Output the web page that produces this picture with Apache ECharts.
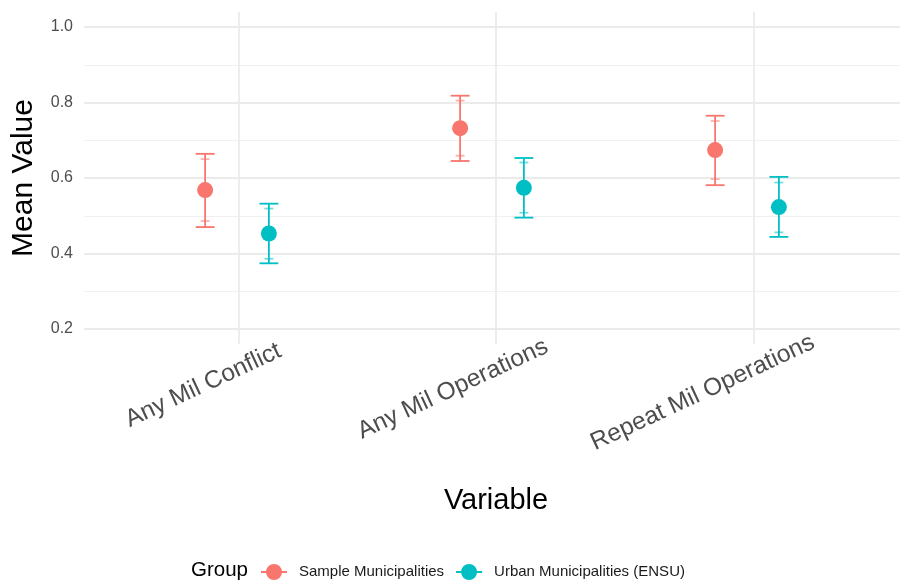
<!DOCTYPE html>
<html>
<head>
<meta charset="utf-8">
<script src="https://cdn.jsdelivr.net/npm/echarts@6/dist/echarts.min.js"></script>
<style>html,body{margin:0;padding:0;background:#fff;}#c{width:900px;height:588px;}</style>
</head>
<body>
<div id="c"></div>
<script>
const categories = ['Any Mil Conflict', 'Any Mil Operations', 'Repeat Mil Operations'];
const groups = ['Sample Municipalities', 'Urban Municipalities (ENSU)'];
const yTicks = [0.2, 0.4, 0.6, 0.8, 1.0];

const sampleMean      = [0.568, 0.732, 0.674];
const sampleLow       = [0.470, 0.645, 0.581];
const sampleHigh      = [0.664, 0.818, 0.765];
const sampleInnerLow  = [0.486, 0.659, 0.597];
const sampleInnerHigh = [0.650, 0.805, 0.751];

const urbanMean      = [0.453, 0.574, 0.523];
const urbanLow       = [0.374, 0.495, 0.444];
const urbanHigh      = [0.532, 0.653, 0.603];
const urbanInnerLow  = [0.386, 0.508, 0.456];
const urbanInnerHigh = [0.519, 0.641, 0.588];

const colors = ['#F8766D', '#00BFC4'];
const dodge = 0.125;
const FONT = '"Liberation Sans", Arial, Helvetica, sans-serif';
const XFS = 24.5;

// measure x label widths to place the rotation anchor like the reference
const ctx = document.createElement('canvas').getContext('2d');
ctx.font = XFS + 'px "Liberation Sans"';
const anchorFrac = 0.73;
const rich = { t: { fontSize: XFS, color: '#4d4d4d', fontFamily: FONT } };
categories.forEach((c, i) => {
  rich['s' + i] = { width: (2 * anchorFrac - 1) * ctx.measureText(c).width, fontSize: XFS };
});

function pts(mean, off) {
  return mean.map((v, i) => [i + 1 + off, v]);
}
function bars(mean, lo, hi, ilo, ihi, off) {
  return mean.map((v, i) => [i + 1 + off, lo[i], hi[i], ilo[i], ihi[i]]);
}
function errRender(color) {
  return function (params, api) {
    const x = api.value(0);
    const top = api.coord([x, api.value(2)]);
    const bot = api.coord([x, api.value(1)]);
    const itop = api.coord([x, api.value(4)]);
    const ibot = api.coord([x, api.value(3)]);
    const ow = api.size([0.037, 0])[0];
    const iw = api.size([0.0175, 0])[0];
    const st = { stroke: color, lineWidth: 1.8 };
    const sti = { stroke: color, lineWidth: 1.8, opacity: 0.55 };
    return {
      type: 'group',
      children: [
        { type: 'line', shape: { x1: top[0], y1: top[1], x2: bot[0], y2: bot[1] }, style: st },
        { type: 'line', shape: { x1: top[0] - ow, y1: top[1], x2: top[0] + ow, y2: top[1] }, style: st },
        { type: 'line', shape: { x1: bot[0] - ow, y1: bot[1], x2: bot[0] + ow, y2: bot[1] }, style: st },
        { type: 'line', shape: { x1: itop[0] - iw, y1: itop[1], x2: itop[0] + iw, y2: itop[1] }, style: sti },
        { type: 'line', shape: { x1: ibot[0] - iw, y1: ibot[1], x2: ibot[0] + iw, y2: ibot[1] }, style: sti }
      ]
    };
  };
}

const legendIcon = 'path://M0,7 L26,7 L26,9 L0,9 Z M5,8 A8,8 0 1,1 21,8 A8,8 0 1,1 5,8 Z';

const chart = echarts.init(document.getElementById('c'), null, { renderer: 'canvas' });
chart.setOption({
  animation: false,
  backgroundColor: '#fff',
  textStyle: { fontFamily: FONT },
  title: {
    text: 'Group', left: 186, top: 555,
    textStyle: { fontSize: 20.5, fontWeight: 'normal', color: '#000', fontFamily: FONT }
  },
  legend: {
    left: 256, top: 559, itemWidth: 26, itemHeight: 16, itemGap: 12,
    data: groups.map(g => ({ name: g, icon: legendIcon })),
    textStyle: { fontSize: 15, color: '#1a1a1a', padding: [0, 0, 0, 7], fontFamily: FONT }
  },
  grid: [
    { left: 238.5, right: 146.5, top: 12, bottom: 244 },
    { left: 84, width: 824, top: 27, bottom: 259 }
  ],
  xAxis: [
    {
      gridIndex: 0, type: 'category', data: categories, boundaryGap: false,
      axisLine: { show: false }, axisTick: { show: false },
      splitLine: { show: true, lineStyle: { color: '#ebebeb', width: 1.8 } },
      axisLabel: {
        interval: 0, rotate: 25, margin: 25, align: 'center', verticalAlign: 'middle',
        formatter: (v, i) => '{t|' + v + '}{s' + i + '| }',
        rich: rich
      },
      name: 'Variable', nameLocation: 'middle', nameGap: 142,
      nameTextStyle: { fontSize: 29, color: '#000', fontFamily: FONT }
    },
    { gridIndex: 1, type: 'value', min: 0.4, max: 3.6, show: false }
  ],
  yAxis: [
    { gridIndex: 0, type: 'value', min: 0, max: 1, show: false },
    {
      gridIndex: 1, type: 'value', min: 0.2, max: 1.0, interval: 0.2,
      axisLine: { show: false }, axisTick: { show: false },
      axisLabel: { margin: 11, fontSize: 16, color: '#4d4d4d', formatter: v => v.toFixed(1) },
      splitLine: { show: true, lineStyle: { color: '#ebebeb', width: 1.8 } },
      minorTick: { show: false, splitNumber: 2 },
      minorSplitLine: { show: true, lineStyle: { color: '#f0f0f0', width: 1 } },
      name: 'Mean Value', nameLocation: 'middle', nameGap: 45, nameRotate: 90,
      nameTextStyle: { fontSize: 30, color: '#000', fontFamily: FONT }
    }
  ],
  series: [
    {
      name: 'errS', type: 'custom', xAxisIndex: 1, yAxisIndex: 1, z: 2, clip: false,
      renderItem: errRender(colors[0]),
      encode: { x: 0, y: [1, 2] },
      data: bars(sampleMean, sampleLow, sampleHigh, sampleInnerLow, sampleInnerHigh, -dodge)
    },
    {
      name: 'errU', type: 'custom', xAxisIndex: 1, yAxisIndex: 1, z: 2, clip: false,
      renderItem: errRender(colors[1]),
      encode: { x: 0, y: [1, 2] },
      data: bars(urbanMean, urbanLow, urbanHigh, urbanInnerLow, urbanInnerHigh, dodge)
    },
    {
      name: groups[0], type: 'scatter', xAxisIndex: 1, yAxisIndex: 1, z: 3,
      symbolSize: 16, itemStyle: { color: colors[0], opacity: 1 },
      data: pts(sampleMean, -dodge)
    },
    {
      name: groups[1], type: 'scatter', xAxisIndex: 1, yAxisIndex: 1, z: 3,
      symbolSize: 16, itemStyle: { color: colors[1], opacity: 1 },
      data: pts(urbanMean, dodge)
    }
  ]
});
</script>
</body>
</html>
